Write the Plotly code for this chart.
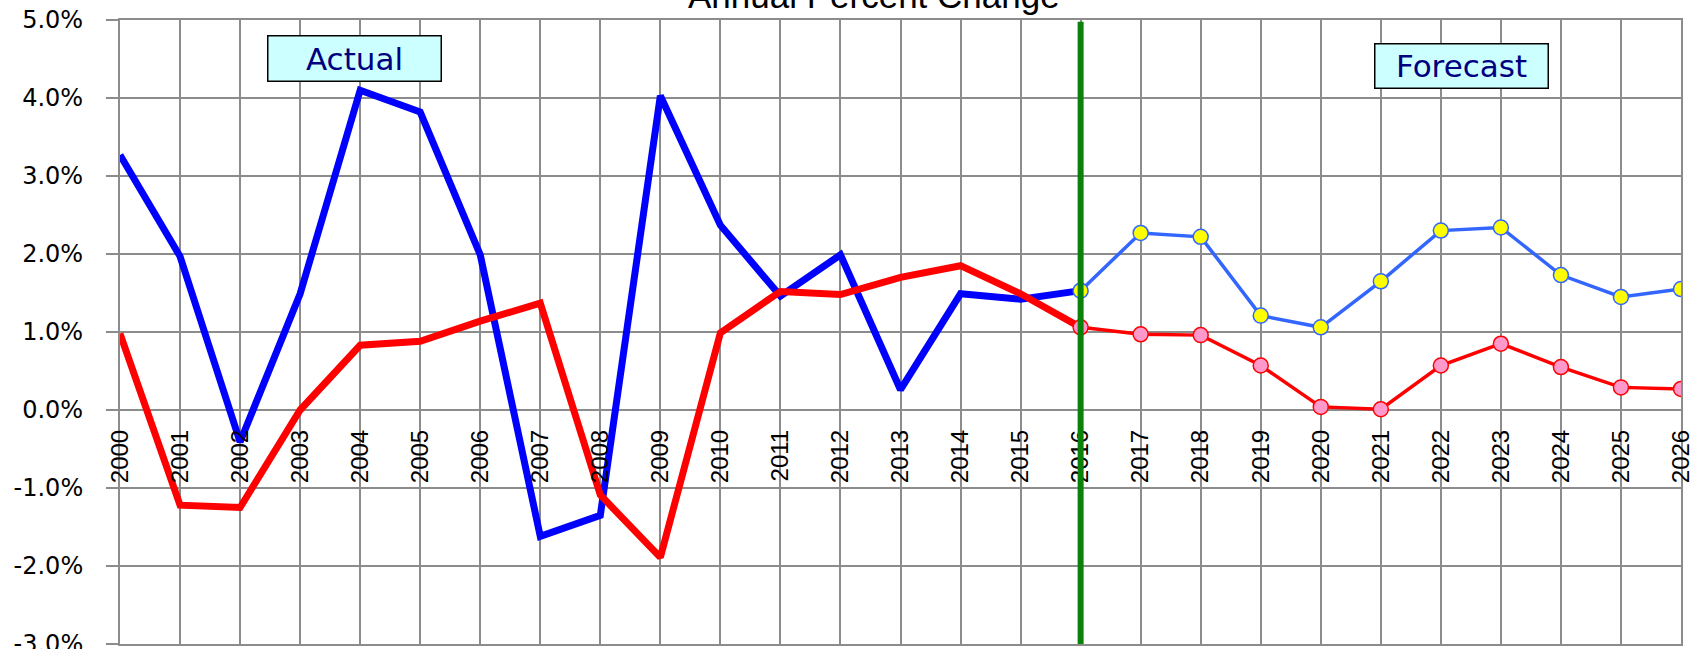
import plotly.graph_objects as go

# ---- data ----
years = list(range(2000, 2027))
year_labels = [str(y) for y in years]
actual_years = list(range(2000, 2017))
forecast_years = list(range(2016, 2027))

actual_blue = [3.27, 1.97, -0.41, 1.49, 4.10, 3.82, 1.99, -1.62, -1.35, 4.03,
               2.37, 1.46, 1.99, 0.26, 1.49, 1.42, 1.53]
actual_red = [0.98, -1.22, -1.25, 0.0, 0.83, 0.88, 1.14, 1.37, -1.09, -1.89,
              0.99, 1.52, 1.48, 1.70, 1.85, 1.49, 1.06]
forecast_blue = [1.53, 2.27, 2.22, 1.21, 1.06, 1.65, 2.30, 2.34, 1.73, 1.45, 1.55]
forecast_red = [1.06, 0.97, 0.96, 0.57, 0.04, 0.01, 0.57, 0.85, 0.55, 0.29, 0.27]

y_ticks = [-3, -2, -1, 0, 1, 2, 3, 4, 5]
y_min, y_max = -3, 5
forecast_start = 2016
title_text = "Annual Percent Change"

GRID = "#8c8c8c"

fig = go.Figure()

fig.add_trace(go.Scatter(x=actual_years, y=actual_blue, mode="lines",
                         line=dict(color="#0000FF", width=7),
                         showlegend=False, hoverinfo="skip"))
fig.add_trace(go.Scatter(x=actual_years, y=actual_red, mode="lines",
                         line=dict(color="#FF0000", width=7),
                         showlegend=False, hoverinfo="skip"))
fig.add_trace(go.Scatter(x=forecast_years, y=forecast_blue, mode="lines+markers",
                         xaxis="x2",
                         line=dict(color="#3366FF", width=3.5),
                         marker=dict(size=15, color="#FFFF00",
                                     line=dict(color="#3366FF", width=1.5)),
                         showlegend=False, hoverinfo="skip"))
fig.add_trace(go.Scatter(x=forecast_years, y=forecast_red, mode="lines+markers",
                         xaxis="x2",
                         line=dict(color="#FF0000", width=3.5),
                         marker=dict(size=15, color="#FF99CC",
                                     line=dict(color="#FF0000", width=1.5)),
                         showlegend=False, hoverinfo="skip"))

fig.add_shape(type="line", xref="x", yref="paper",
              x0=forecast_start, x1=forecast_start, y0=0, y1=0.997,
              line=dict(color="#0A820A", width=6), layer="above")

fig.update_layout(
    width=1691, height=649,
    margin=dict(l=120, r=10, t=20, b=5, autoexpand=False),
    paper_bgcolor="white", plot_bgcolor="white",
    xaxis=dict(range=[years[0], years[-1]], tickvals=years,
               showticklabels=False, ticks="", automargin=False,
               showgrid=True, gridcolor=GRID, gridwidth=2,
               showline=True, linecolor=GRID, linewidth=2, mirror=True,
               zeroline=False, fixedrange=True),
    xaxis2=dict(range=[years[0], years[-1]], overlaying="x", anchor="free",
                position=(0 - y_min) / (y_max - y_min), side="bottom",
                tickvals=years, ticktext=year_labels, tickangle=-90,
                ticks="", ticklabelstandoff=14, ticklabeloverflow="allow",
                automargin=False,
                tickfont=dict(family="Liberation Sans", size=24, color="black"),
                showgrid=False, showline=False, zeroline=False, fixedrange=True),
    yaxis=dict(range=[y_min, y_max], tickvals=y_ticks,
               ticktext=[f"{v:.1f}%" for v in y_ticks],
               ticks="outside", ticklen=12, tickcolor=GRID, tickwidth=2,
               ticklabelstandoff=18, ticklabeloverflow="allow", automargin=False,
               tickfont=dict(family="DejaVu Sans", size=24, color="black"),
               showgrid=True, gridcolor=GRID, gridwidth=2,
               showline=True, linecolor=GRID, linewidth=2, mirror=True,
               zeroline=False, fixedrange=True),
)

fig.add_annotation(text=title_text, xref="paper", yref="paper",
                   x=0.483, y=1.006, xanchor="center", yanchor="bottom",
                   showarrow=False, borderpad=0,
                   font=dict(family="Liberation Sans", size=35, color="black"))

fig.add_annotation(text="Actual", xref="paper", yref="paper",
                   x=0.1505, y=0.938, xanchor="center", yanchor="middle",
                   showarrow=False, width=172, height=44, borderpad=0,
                   bgcolor="#CCFFFF", bordercolor="black", borderwidth=1.5,
                   font=dict(family="DejaVu Sans", size=31, color="#000080"))

fig.add_annotation(text="Forecast", xref="paper", yref="paper",
                   x=0.8597, y=0.927, xanchor="center", yanchor="middle",
                   showarrow=False, width=172, height=43, borderpad=0,
                   bgcolor="#CCFFFF", bordercolor="black", borderwidth=1.5,
                   font=dict(family="DejaVu Sans", size=31, color="#000080"))

fig.write_html("out.html",
               config={"displayModeBar": False},
               post_script="document.body.style.margin='0';"
                           "document.body.style.overflow='hidden';")
